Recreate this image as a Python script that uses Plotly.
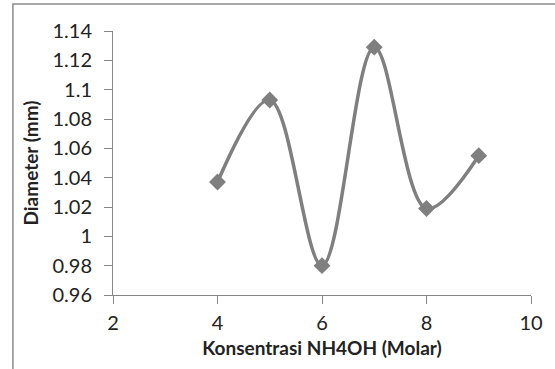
import plotly.graph_objects as go

konsentrasi = [4, 5, 6, 7, 8, 9]
diameter = [1.037, 1.093, 0.980, 1.129, 1.019, 1.055]
x_ticks = [2, 4, 6, 8, 10]
y_ticks = [0.96, 0.98, 1.0, 1.02, 1.04, 1.06, 1.08, 1.1, 1.12, 1.14]
y_tick_labels = ["0.96", "0.98", "1", "1.02", "1.04", "1.06", "1.08", "1.1", "1.12", "1.14"]

W, H = 555, 369
L, R, T, B = 113, 16, 31, 74
pw, ph = W - L - R, H - T - B

fig = go.Figure()
fig.add_trace(go.Scatter(
    x=konsentrasi, y=diameter, mode="lines+markers",
    line=dict(color="#7f7f7f", width=3.5, shape="spline", smoothing=1.0),
    marker=dict(symbol="diamond", size=13, color="#7f7f7f"),
    showlegend=False,
))

axis_color = "#868686"
font_family = "Lato, Carlito, Calibri, sans-serif"
fig.update_layout(
    width=W, height=H,
    margin=dict(l=L, r=R, t=T, b=B),
    paper_bgcolor="white", plot_bgcolor="white",
    font=dict(family=font_family, color="#222222", size=20),
    xaxis=dict(
        range=[2, 10], tickvals=x_ticks, ticks="outside", ticklen=8,
        tickcolor=axis_color, showline=True, linecolor=axis_color, linewidth=1,
        showgrid=False, zeroline=False, ticklabelstandoff=2,
        title=dict(text="<b>Konsentrasi NH4OH (Molar)</b>", standoff=8,
                   font=dict(size=19)),
    ),
    yaxis=dict(
        range=[0.96, 1.14], tickvals=y_ticks, ticktext=y_tick_labels,
        ticks="outside", ticklen=8, tickcolor=axis_color,
        showline=True, linecolor=axis_color, linewidth=1,
        showgrid=False, zeroline=False, ticklabelstandoff=8,
        title=dict(text="<b>Diameter (mm)</b>", standoff=8,
                   font=dict(size=19)),
    ),
    shapes=[dict(
        type="rect", xref="paper", yref="paper",
        x0=(11 - L) / pw, x1=1 + (R + 10) / pw,
        y0=-(B + 10) / ph, y1=1 + (T - 4) / ph,
        line=dict(color="#8c8c8c", width=1.5), fillcolor="rgba(0,0,0,0)",
    )],
)

fig.write_html("out.html")
